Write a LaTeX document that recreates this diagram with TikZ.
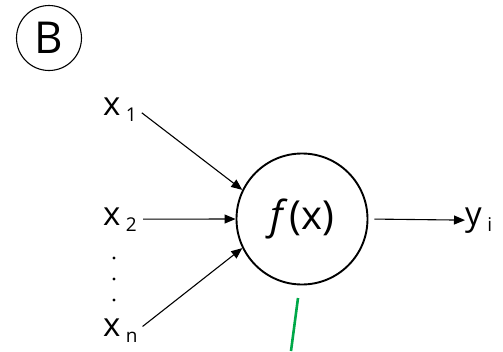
\documentclass[tikz,border=0pt]{standalone}
\usepackage{fontspec}
\setmainfont{Open Sans}
\usetikzlibrary{arrows.meta, positioning}

\definecolor{strokegreen}{RGB}{0,168,72}
\newcommand{\low}[1]{\,\raisebox{-6pt}{\fontsize{19}{19}\selectfont #1}}

\begin{document}
\begin{tikzpicture}[
    x=1pt, y=-1pt,
    every node/.style={inner sep=0pt},
    unit/.style={circle, draw, line width=1.9pt, minimum size=131pt, font=\fontsize{40}{40}\selectfont},
    tag/.style={circle, draw, line width=1.1pt, minimum size=65pt, font=\fontsize{44}{44}\selectfont},
    var/.style={font=\fontsize{33}{33}\selectfont},
    arrow/.style={-{Triangle[length=11pt, width=9pt]}, line width=1.1pt}
]
\useasboundingbox (0,0) rectangle (503,351);

% Panel tag
\node[tag] (tagB) at (49,38) {B};

% Neuron
\node[unit] (neuron) at (302,219) {{\itshape f\,}(x)};

% Inputs
\node[var, anchor=base west] (x1) at (103,115) {x\low{1}};
\node[var, anchor=base west] (x2) at (103,225) {x\low{2}};
\node[var, anchor=base west] (xn) at (103,336) {x\low{n}};
\foreach \y in {258,279,300}
    \fill (114,\y) circle (1.6pt);

% Output
\node[var, anchor=base west] (yi) at (465,225) {y\low{i}};

% Connections
\draw[arrow, shorten <=6pt] (x1.east) -- (neuron.154);
\draw[arrow, shorten <=6pt] (x2.east) -- (neuron.west);
\draw[arrow, shorten <=6pt] (xn.east) -- (neuron.206);
\draw[arrow, shorten <=6pt] (neuron.east) -- (yi.west);

% Green stroke
\coordinate (g1) at (298,298);
\coordinate (g2) at (291,351);
\draw[line width=2.6pt, strokegreen] (g1) -- (g2);

\end{tikzpicture}
\end{document}
